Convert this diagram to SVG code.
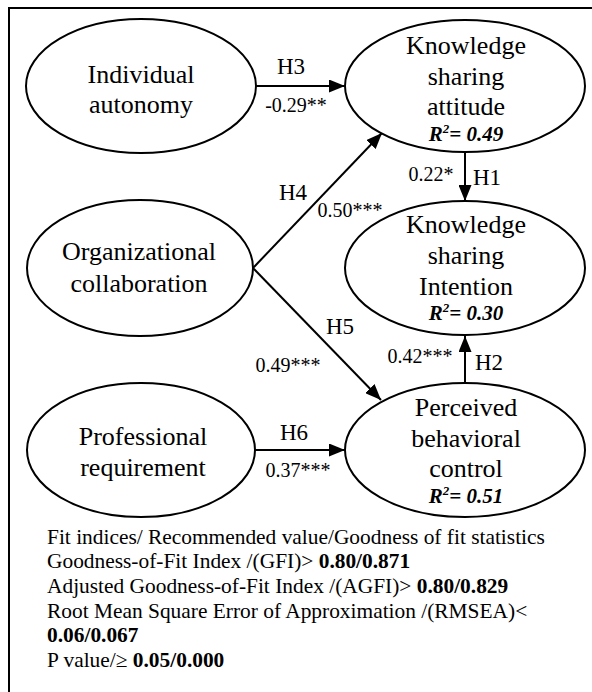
<svg xmlns="http://www.w3.org/2000/svg" width="592" height="692" viewBox="0 0 592 692" font-family="'Liberation Serif', 'Times New Roman', serif">
<style>
text{font-family:'Liberation Serif','Times New Roman',serif;fill:#000}
.node ellipse{fill:#fff;stroke:#000;stroke-width:2}
.nt{font-size:26px;text-anchor:middle}
.r2{font-size:21px;text-anchor:middle;font-weight:bold;font-style:italic}
.h{font-size:23px}
.c{font-size:20px}
.fit{font-size:21.4px}
.b{font-weight:bold}
.edge{stroke:#000;stroke-width:2;fill:none}
</style>
<defs>
<marker id="ah" markerUnits="userSpaceOnUse" markerWidth="17" markerHeight="13" refX="16" refY="6.5" orient="auto">
<path d="M0,0 L16,6.5 L0,13 z" fill="#000"/>
</marker>
</defs>
<rect width="592" height="692" fill="#fff"/>
<path d="M9,692 L9,8 L592,8" fill="none" stroke="#000" stroke-width="2"/>

<g id="connectors" font-family="'Liberation Serif', serif">
<line class="edge" x1="256" y1="86" x2="345" y2="86" marker-end="url(#ah)"/>
<line class="edge" x1="253" y1="268" x2="382" y2="133" marker-end="url(#ah)"/>
<line class="edge" x1="253" y1="268" x2="381" y2="400" marker-end="url(#ah)"/>
<line class="edge" x1="465" y1="152" x2="465" y2="201" marker-end="url(#ah)"/>
<line class="edge" x1="465" y1="383" x2="465" y2="336" marker-end="url(#ah)"/>
<line class="edge" x1="255" y1="450" x2="345" y2="450" marker-end="url(#ah)"/>
<text class="h" x="291" y="74" text-anchor="middle">H3</text>
<text class="c" x="296" y="112" text-anchor="middle">-0.29**</text>
<text class="h" x="293" y="200" text-anchor="middle">H4</text>
<text class="c" x="350" y="217" text-anchor="middle">0.50***</text>
<text class="c" x="431" y="181" text-anchor="middle">0.22*</text>
<text class="h" x="473" y="185">H1</text>
<text class="h" x="340" y="334" text-anchor="middle">H5</text>
<text class="c" x="288" y="372" text-anchor="middle">0.49***</text>
<text class="c" x="420" y="363" text-anchor="middle">0.42***</text>
<text class="h" x="475" y="370">H2</text>
<text class="h" x="294" y="440" text-anchor="middle">H6</text>
<text class="c" x="298" y="477" text-anchor="middle">0.37***</text>
</g>

<g id="individual-autonomy" class="node" font-family="'Liberation Serif', serif">
<ellipse cx="141" cy="86" rx="115" ry="67"/>
<text class="nt" x="141" y="83">Individual</text>
<text class="nt" x="141" y="113">autonomy</text>
</g>

<g id="organizational-collaboration" class="node" font-family="'Liberation Serif', serif">
<ellipse cx="140" cy="268" rx="113" ry="68"/>
<text class="nt" x="139" y="260">Organizational</text>
<text class="nt" x="139" y="292">collaboration</text>
</g>

<g id="professional-requirement" class="node" font-family="'Liberation Serif', serif">
<ellipse cx="141" cy="450" rx="114" ry="67"/>
<text class="nt" x="143" y="445">Professional</text>
<text class="nt" x="143" y="476">requirement</text>
</g>

<g id="knowledge-sharing-attitude" class="node" font-family="'Liberation Serif', serif">
<ellipse cx="465" cy="86" rx="120" ry="66"/>
<text class="nt" x="466" y="54">Knowledge</text>
<text class="nt" x="466" y="85">sharing</text>
<text class="nt" x="466" y="115">attitude</text>
<text class="r2" x="466" y="141">R<tspan dy="-8" font-size="13">2</tspan><tspan dy="8">= 0.49</tspan></text>
</g>

<g id="knowledge-sharing-intention" class="node" font-family="'Liberation Serif', serif">
<ellipse cx="465" cy="268" rx="120" ry="67"/>
<text class="nt" x="466" y="233">Knowledge</text>
<text class="nt" x="466" y="264">sharing</text>
<text class="nt" x="466" y="295">Intention</text>
<text class="r2" x="466" y="320">R<tspan dy="-8" font-size="13">2</tspan><tspan dy="8">= 0.30</tspan></text>
</g>

<g id="perceived-behavioral-control" class="node" font-family="'Liberation Serif', serif">
<ellipse cx="465" cy="450" rx="120" ry="67"/>
<text class="nt" x="466" y="416">Perceived</text>
<text class="nt" x="466" y="447">behavioral</text>
<text class="nt" x="466" y="477">control</text>
<text class="r2" x="466" y="503">R<tspan dy="-8" font-size="13">2</tspan><tspan dy="8">= 0.51</tspan></text>
</g>

<g id="fit-indices" font-family="'Liberation Serif', serif">
<text class="fit" x="47" y="544">Fit indices/ Recommended value/Goodness of fit statistics</text>
<text class="fit" x="47" y="568">Goodness-of-Fit Index /(GFI)&gt; <tspan class="b">0.80/0.871</tspan></text>
<text class="fit" x="47" y="593">Adjusted Goodness-of-Fit Index /(AGFI)&gt; <tspan class="b">0.80/0.829</tspan></text>
<text class="fit" x="47" y="618">Root Mean Square Error of Approximation /(RMSEA)&lt;</text>
<text class="fit b" x="47" y="642">0.06/0.067</text>
<text class="fit" x="47" y="667">P value/≥ <tspan class="b">0.05/0.000</tspan></text>
</g>
</svg>
